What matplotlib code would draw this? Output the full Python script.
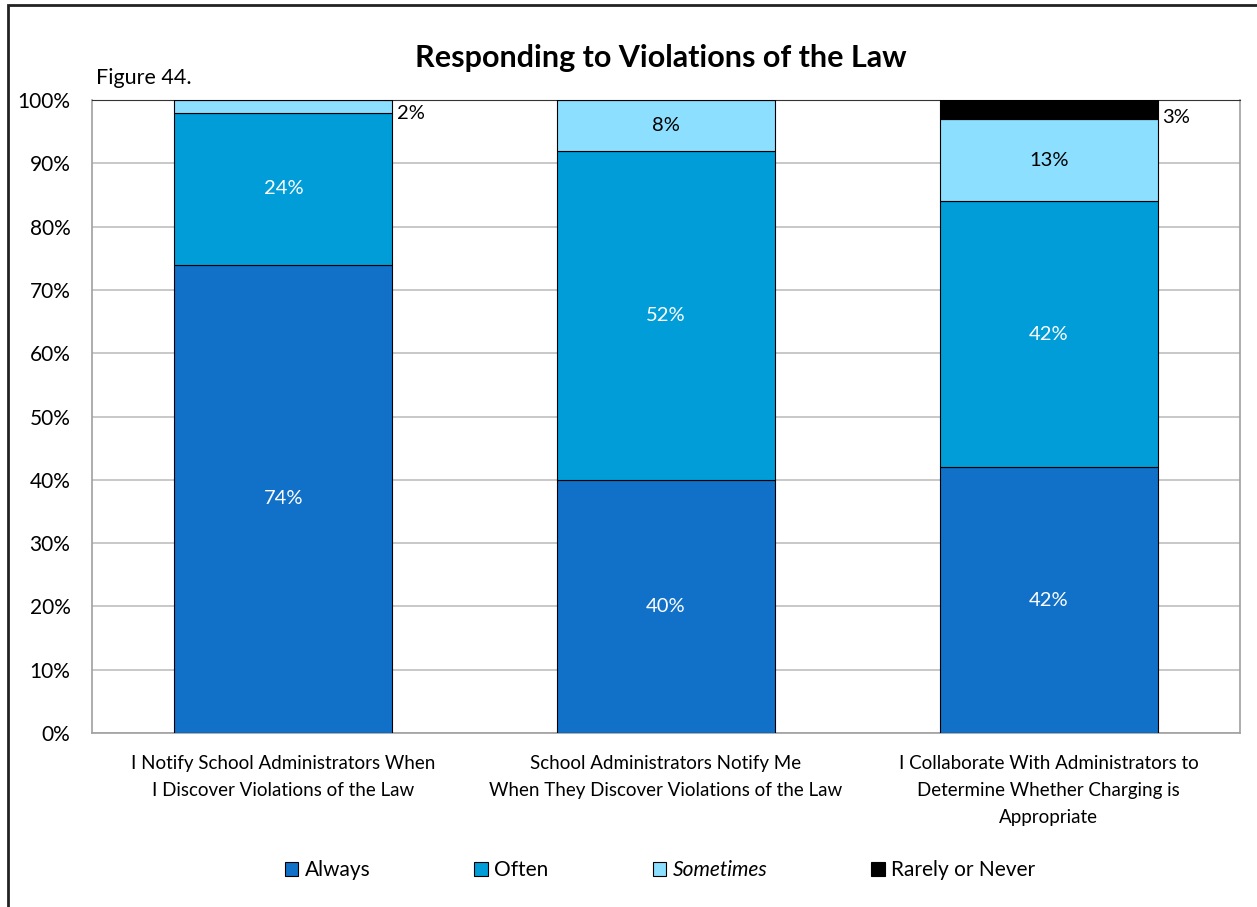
import matplotlib
matplotlib.use("Agg")
import matplotlib.pyplot as plt
from matplotlib.patches import Rectangle
import numpy as np

categories = ["I Notify School Administrators When\nI Discover Violations of the Law",
              "School Administrators Notify Me\nWhen They Discover Violations of the Law",
              "I Collaborate With Administrators to\nDetermine Whether Charging is\nAppropriate"]
series_names = ["Always", "Often", "Sometimes", "Rarely or Never"]
always = [74, 40, 42]
often = [24, 52, 42]
sometimes = [2, 8, 13]
rarely = [0, 0, 3]
yticks = [0, 10, 20, 30, 40, 50, 60, 70, 80, 90, 100]

colors = ["#1170C8", "#009DD8", "#8CDFFF", "#000000"]
label_colors = ["white", "white", "black", "black"]

plt.rcParams['font.family'] = ['Lato', 'DejaVu Sans']

fig = plt.figure(figsize=(12.57, 9.07), dpi=100)
ax = fig.add_axes([0.0732, 0.1918, 0.9133, 0.6979])

# outer border
fig.patches.append(Rectangle((8/1257, -0.1), 1.2, 1 - 5/907 + 0.1, transform=fig.transFigure,
                             fill=False, edgecolor="#222222", linewidth=2))

x = np.arange(len(categories))
width = 0.57
data = [always, often, sometimes, rarely]
bottom = np.zeros(len(categories))
for i, (vals, name) in enumerate(zip(data, series_names)):
    vals = np.array(vals, dtype=float)
    ax.bar(x, vals, width, bottom=bottom, color=colors[i], edgecolor="black",
           linewidth=0.8, label=name, zorder=3)
    for j, v in enumerate(vals):
        if v <= 0:
            continue
        if v >= 5:
            ax.text(x[j], bottom[j] + v / 2, f"{int(v)}%", ha="center", va="center",
                    color=label_colors[i], fontsize=14.5, zorder=4)
        else:
            ax.text(x[j] + width / 2 + 0.012, bottom[j] + v / 2 - 1.2, f"{int(v)}%",
                    ha="left", va="center", color="black", fontsize=14.5, zorder=4)
    bottom += vals

ax.set_xlim(-0.5, len(categories) - 0.5)
ax.set_ylim(0, 100)
ax.set_yticks(yticks)
ax.set_yticklabels([f"{t}%" for t in yticks], fontsize=15)
ax.set_xticks(x)
ax.set_xticklabels(categories, fontsize=13.5, linespacing=1.7)
ax.tick_params(axis="both", length=0)
ax.tick_params(axis="y", pad=15.5)
ax.tick_params(axis="x", pad=16)
ax.yaxis.grid(True, color="#BFBFBF", linewidth=1.2, zorder=0)
ax.set_axisbelow(True)
ax.spines["top"].set_color("#333333")
for s in ["left", "bottom", "right"]:
    ax.spines[s].set_color("#A0A0A0")
    ax.spines[s].set_linewidth(1.2)

fig.text(661/1257, 1 - 58/907, "Responding to Violations of the Law", ha="center", va="center",
         fontsize=22, fontweight="bold")
fig.text(96/1257, 1 - 78/907, "Figure 44.", ha="left", va="center", fontsize=15.5)

leg = ax.legend(loc="center", bbox_to_anchor=(660/1257, 1 - 870/907), bbox_transform=fig.transFigure,
                ncol=4, frameon=False, fontsize=15, handlelength=0.65, handleheight=0.65,
                handletextpad=0.3, columnspacing=5.0)
for h in leg.legend_handles:
    h.set_linewidth(0.8)
    h.set_edgecolor("black")
leg.get_texts()[2].set_fontstyle("italic")

fig.savefig("out.png", dpi=100)
